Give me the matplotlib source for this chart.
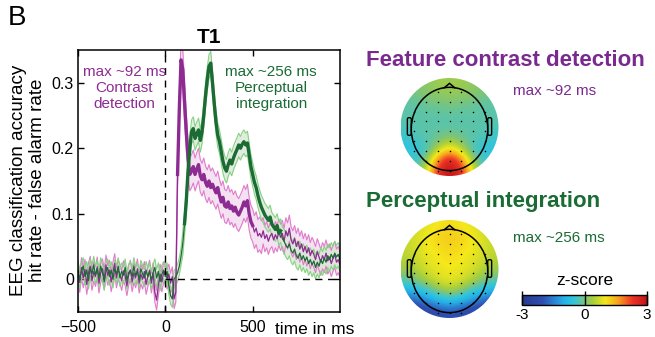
import numpy as np
import matplotlib
matplotlib.use("Agg")
import matplotlib.pyplot as plt
from matplotlib.colors import LinearSegmentedColormap
from matplotlib.patches import Circle, Ellipse, Polygon, FancyBboxPatch

plt.rcParams['font.family'] = ['Liberation Sans', 'DejaVu Sans']

# decoding time course, sampled every 10 ms from -500 to 1000 ms
times = np.arange(-500, 1001, 10)

contrast_mean = [
    0.012, -0.005, 0.018, 0.002, 0.015, -0.008, 0.010, 0.020, -0.002, 0.012,
    0.004, 0.019, -0.006, 0.010, 0.016, 0.000, 0.022, 0.006, 0.014, -0.004,
    0.011, 0.024, 0.002, 0.015, 0.008, -0.002, 0.013, 0.005, -0.010, 0.006,
    0.014, -0.004, 0.010, 0.002, 0.016, -0.006, 0.008, 0.000, 0.012, -0.008,
    0.004, 0.014, -0.006, 0.010, -0.020, -0.032, -0.010, 0.008, -0.004, 0.010,
    0.012, 0.000, 0.008, -0.006, 0.004, -0.030, -0.020, 0.160, 0.260, 0.335,
    0.320, 0.270, 0.225, 0.185, 0.160, 0.165, 0.172, 0.160, 0.168, 0.175,
    0.158, 0.152, 0.160, 0.148, 0.142, 0.150, 0.140, 0.145, 0.138, 0.132,
    0.140, 0.128, 0.118, 0.125, 0.112, 0.110, 0.118, 0.108, 0.112, 0.104,
    0.110, 0.102, 0.098, 0.104, 0.110, 0.118, 0.112, 0.120, 0.100, 0.088,
    0.082, 0.072, 0.078, 0.066, 0.070, 0.064, 0.074, 0.062, 0.068, 0.058,
    0.066, 0.070, 0.060, 0.068, 0.062, 0.072, 0.064, 0.070, 0.058, 0.074,
    0.066, 0.078, 0.060, 0.054, 0.062, 0.050, 0.058, 0.046, 0.054, 0.042,
    0.050, 0.040, 0.048, 0.036, 0.044, 0.038, 0.030, 0.042, 0.034, 0.026,
    0.036, 0.030, 0.040, 0.028, 0.034, 0.024, 0.032, 0.038, 0.026, 0.030,
    0.022,
]
contrast_sem = [0.015] * 57 + [0.02, 0.025, 0.03, 0.03, 0.03, 0.028] + [0.025] * 43 + [0.02] * 45
contrast_sig = (times >= 70) & (times <= 500)

integration_mean = [
    0.015, 0.000, 0.012, 0.020, 0.004, 0.014, -0.002, 0.018, 0.008, 0.022,
    0.006, 0.016, 0.002, 0.020, 0.010, -0.004, 0.012, 0.018, 0.004, 0.014,
    0.000, 0.016, 0.008, 0.020, 0.002, 0.012, 0.006, 0.018, -0.002, 0.010,
    0.014, 0.004, 0.020, 0.006, 0.012, 0.000, 0.016, 0.008, 0.002, 0.014,
    0.004, 0.012, -0.002, 0.010, 0.018, 0.002, 0.012, -0.004, 0.008, 0.014,
    0.004, 0.012, -0.010, -0.025, -0.030, 0.000, 0.004, 0.010, 0.020, 0.035,
    0.055, 0.085, 0.120, 0.165, 0.200, 0.225, 0.230, 0.215, 0.222, 0.228,
    0.212, 0.225, 0.250, 0.280, 0.305, 0.325, 0.330, 0.300, 0.268, 0.240,
    0.220, 0.210, 0.195, 0.180, 0.170, 0.165, 0.175, 0.182, 0.176, 0.185,
    0.192, 0.198, 0.205, 0.200, 0.206, 0.210, 0.205, 0.208, 0.190, 0.172,
    0.160, 0.148, 0.140, 0.128, 0.118, 0.110, 0.104, 0.098, 0.094, 0.090,
    0.095, 0.084, 0.080, 0.076, 0.082, 0.070, 0.074, 0.062, 0.058, 0.052,
    0.048, 0.054, 0.044, 0.040, 0.046, 0.036, 0.032, 0.040, 0.030, 0.036,
    0.028, 0.034, 0.024, 0.030, 0.022, 0.028, 0.018, 0.026, 0.020, 0.030,
    0.024, 0.032, 0.026, 0.036, 0.030, 0.038, 0.032, 0.040, 0.034, 0.038,
    0.030,
]
integration_sem = [0.013] * 60 + [0.018] * 91
integration_sig = (times >= 110) & (times <= 660)

# scalp maps (z-scores) on a coarse 9x9 grid, top row = frontal
topo_contrast = [
    [0.0, 0.1, 0.2, 0.3, 0.3, 0.3, 0.2, 0.1, 0.0],
    [-0.1, 0.0, 0.1, 0.2, 0.2, 0.2, 0.1, 0.0, -0.1],
    [-0.2, -0.2, -0.1, -0.1, 0.0, -0.1, -0.1, -0.2, -0.2],
    [-0.2, -0.2, -0.2, -0.2, -0.2, -0.2, -0.2, -0.2, -0.2],
    [-0.3, -0.2, -0.2, -0.2, -0.2, -0.2, -0.2, -0.2, -0.3],
    [-0.5, -0.3, -0.2, -0.1, 0.1, -0.1, -0.2, -0.3, -0.5],
    [-0.6, -0.6, -0.3, 0.5, 1.2, 0.5, -0.3, -0.6, -0.6],
    [-0.4, -0.5, 0.3, 2.0, 2.8, 2.0, 0.3, -0.5, -0.4],
    [-0.2, -0.2, 1.0, 2.6, 3.0, 2.6, 1.0, -0.2, -0.2],
]
topo_integration = [
    [0.5, 0.7, 0.9, 1.0, 1.1, 1.0, 0.9, 0.7, 0.5],
    [0.6, 0.8, 1.0, 1.2, 1.3, 1.2, 1.0, 0.8, 0.6],
    [0.6, 0.8, 1.0, 1.1, 1.2, 1.1, 1.0, 0.8, 0.6],
    [0.5, 0.7, 0.9, 1.0, 1.1, 1.0, 0.9, 0.7, 0.5],
    [0.3, 0.5, 0.8, 0.9, 1.0, 0.9, 0.8, 0.5, 0.3],
    [-0.2, 0.1, 0.5, 0.8, 0.9, 0.8, 0.5, 0.1, -0.2],
    [-1.0, -0.8, -0.4, 0.1, 0.4, 0.1, -0.4, -0.8, -1.0],
    [-2.0, -1.8, -1.4, -1.0, -0.8, -1.0, -1.4, -1.8, -2.0],
    [-2.6, -2.6, -2.4, -2.2, -2.0, -2.2, -2.4, -2.6, -2.6],
]

purple = '#8e2b92'
purple_edge = '#e07ccb'
purple_fill = '#f1d9ee'
green = '#1a6b34'
green_edge = '#86d282'
green_fill = '#d8e6d3'

zmap = LinearSegmentedColormap.from_list('zmap', [
    (0.0, '#263a8e'), (1/6, '#2f4fb0'), (0.25, '#2b7fd0'), (1/3, '#26b0e6'),
    (0.4, '#2cc4e0'), (0.467, '#5cc4a8'), (0.5, '#7ac47c'), (0.567, '#a8cf3c'),
    (2/3, '#f5e81a'), (0.767, '#f7a51f'), (0.883, '#ee3524'), (1.0, '#c0141a')])

fig = plt.figure(figsize=(6.55, 3.37), dpi=100)

# ---- time course ----
ax = fig.add_axes([78/655, 25/337, 262/655, 262/337])
t = times
for mean, sem, edge, fill in [(contrast_mean, contrast_sem, purple_edge, purple_fill),
                              (integration_mean, integration_sem, green_edge, green_fill)]:
    m = np.array(mean)
    s = np.array(sem)
    ax.fill_between(t, m - s, m + s, color=fill, alpha=0.75, lw=0)
    ax.plot(t, m - s, color=edge, lw=0.8)
    ax.plot(t, m + s, color=edge, lw=0.8)

for mean, sig, col in [(contrast_mean, contrast_sig, purple),
                       (integration_mean, integration_sig, green)]:
    m = np.array(mean)
    ax.plot(t, m, color=col, lw=0.9)
    ax.plot(t, np.where(sig, m, np.nan), color=col, lw=2.4)

ax.axvline(0, color='black', lw=1, ls=(0, (5, 4)))
ax.plot([0, 1000], [0, 0], color='black', lw=1, ls=(0, (5, 4)))

ax.set_xlim(-500, 1000)
ax.set_ylim(-0.05, 0.35)
ax.set_xticks([-500, 0, 500])
ax.set_yticks([0, 0.1, 0.2, 0.3])
ax.set_yticklabels(['0', '0.1', '0.2', '0.3'])
ax.tick_params(direction='in', top=True, right=True, length=4, width=1,
               labelsize=11.5, pad=3)
ax.tick_params(axis='x', labelsize=11.5, pad=6)
for sp in ax.spines.values():
    sp.set_linewidth(1.1)

ax.set_title('T1', fontsize=15, fontweight='bold', pad=5)
ax.text(-234, 0.327, 'max ~92 ms\nContrast\ndetection', color=purple,
        fontsize=11, ha='center', va='top', linespacing=1.2)
ax.text(606, 0.327, 'max ~256 ms\nPerceptual\nintegration', color=green,
        fontsize=11, ha='center', va='top', linespacing=1.2)

fig.text(275/655, 0.008, 'time in ms', fontsize=12.5, ha='left', va='baseline')
fig.text(28/655, 0.466, 'EEG classification accuracy\nhit rate - false alarm rate',
         fontsize=13.5, rotation=90, ha='center', va='center', linespacing=1.15)
fig.text(8/655, 0.925, 'B', fontsize=20, ha='left', va='baseline')


# ---- scalp maps ----
def draw_topo(rect, values):
    tax = fig.add_axes(rect)
    im = tax.imshow(np.array(values), extent=[-1, 1, -1, 1], cmap=zmap,
                    vmin=-3, vmax=3, interpolation='bicubic', origin='upper')
    disk = Circle((0, 0), 1.0, transform=tax.transData)
    im.set_clip_path(disk)
    # head outline, nose, ears
    tax.add_patch(Ellipse((0, -0.04), 1.56, 1.7, fill=False, lw=1.1, color='black'))
    tax.add_patch(Polygon([[-0.12, 0.79], [0, 0.89], [0.12, 0.79]], closed=False,
                          fill=False, lw=1.1, color='black'))
    for sx in (-1, 1):
        tax.add_patch(FancyBboxPatch((sx * 0.82 - 0.04, -0.17), 0.08, 0.36,
                                     boxstyle='round,pad=0,rounding_size=0.03',
                                     fill=False, lw=1.0, color='black'))
    gx, gy = np.meshgrid(np.linspace(-0.96, 0.96, 9), np.linspace(-0.9, 0.72, 9))
    keep = gx**2 + (gy + 0.06)**2 < 0.88**2
    tax.scatter(gx[keep], gy[keep], s=1.2, color='black', lw=0)
    tax.set_xlim(-1, 1)
    tax.set_ylim(-1, 1)
    tax.set_aspect('equal')
    tax.axis('off')
    return im


draw_topo([400.5/655, 161/337, 98/655, 98/337], topo_contrast)
im = draw_topo([400.5/655, 19/337, 98/655, 98/337], topo_integration)

fig.text(366/655, (337 - 66)/337, 'Feature contrast detection', color='#7a2a8f',
         fontsize=16, fontweight='bold', ha='left', va='baseline')
fig.text(513/655, (337 - 95)/337, 'max ~92 ms', color='#7a2a8f', fontsize=11,
         ha='left', va='baseline')
fig.text(366/655, (337 - 207)/337, 'Perceptual integration', color=green,
         fontsize=16, fontweight='bold', ha='left', va='baseline')
fig.text(513/655, (337 - 241.5)/337, 'max ~256 ms', color=green, fontsize=11,
         ha='left', va='baseline')

# ---- colorbar ----
cax = fig.add_axes([522/655, 32/337, 125/655, 10/337])
cb = fig.colorbar(im, cax=cax, orientation='horizontal', ticks=[-3, 0, 3])
cb.ax.tick_params(direction='in', length=10, width=1, labelsize=11, pad=2)
cb.outline.set_linewidth(1)
cb.ax.set_xticklabels(['-3', '0', '3'])
fig.text(585/655, (337 - 285)/337, 'z-score', fontsize=12.5, ha='center', va='baseline')

fig.savefig('out.png', dpi=100)
